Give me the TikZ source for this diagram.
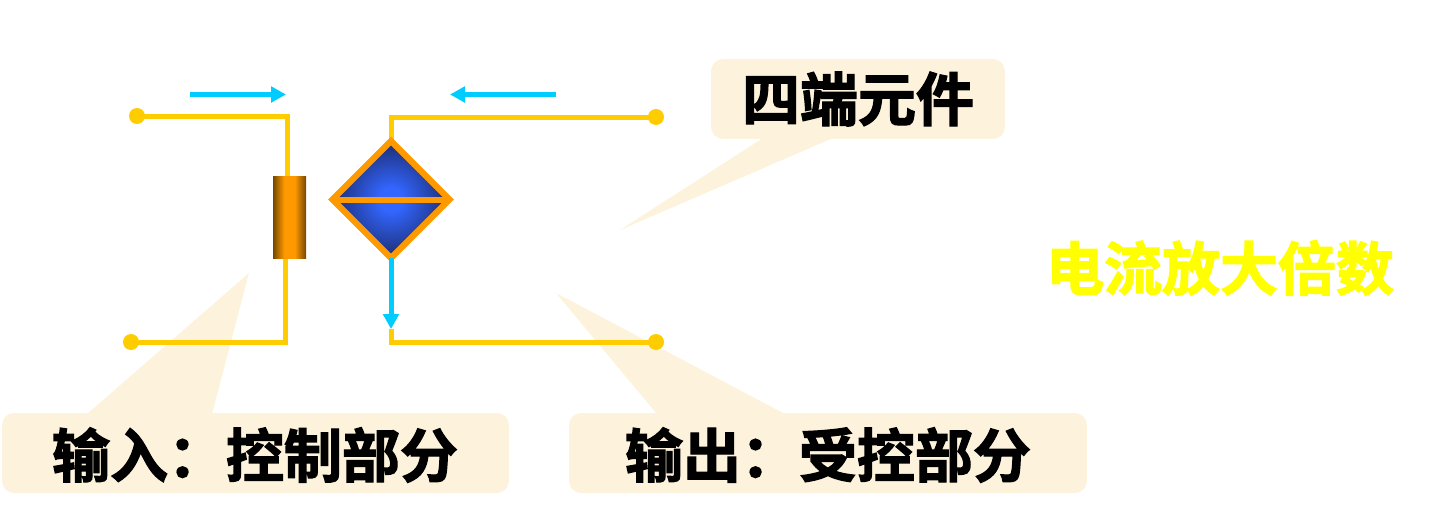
\documentclass[tikz,border=0pt]{standalone}
\usepackage{fontspec}
\usepackage{amsmath}
\usepackage{xcolor}
\usepackage{tikz}
\usetikzlibrary{positioning,arrows.meta,shapes.geometric}
\newfontfamily\cjk[FakeBold=2.2]{Noto Sans CJK SC Bold}
\definecolor{wireyellow}{HTML}{FFCC00}
\definecolor{flowblue}{HTML}{00CCFF}
\definecolor{noteback}{HTML}{FDF3DC}
\definecolor{rimorange}{HTML}{FF9900}
\definecolor{rodbrown}{HTML}{744800}
\definecolor{coreblue}{HTML}{3366FF}
\definecolor{edgeblue}{HTML}{1D2F78}
\definecolor{gainyellow}{HTML}{FFFF00}
\pgfdeclarehorizontalshading{rodglow}{100bp}{color(0bp)=(rodbrown); color(25bp)=(rodbrown); color(42bp)=(rimorange); color(58bp)=(rimorange); color(75bp)=(rodbrown); color(100bp)=(rodbrown)}
\pgfdeclareradialshading{diamondglow}{\pgfpoint{0bp}{0bp}}{color(0bp)=(coreblue); color(5bp)=(coreblue); color(24bp)=(edgeblue); color(50bp)=(edgeblue)}

\begin{document}
\begin{tikzpicture}[
    x=0.02cm, y=-0.02cm,
    wire/.style={draw=wireyellow, line width=0.1cm},
    wiredot/.style={circle, fill=wireyellow, inner sep=0pt, minimum size=0.32cm},
    flow/.style={draw=flowblue, line width=0.1cm, -{Triangle[length=0.3cm, width=0.31cm]}},
    notebox/.style={fill=noteback, rounded corners=0.24cm, minimum height=1.6cm, inner sep=0pt},
    notetip/.style={fill=noteback},
    notetext/.style={font=\cjk\fontsize{33}{33}\selectfont, text=black, inner sep=0pt},
    formula/.style={font=\fontsize{46}{46}\selectfont, text=white, inner sep=0pt}
]
\useasboundingbox (0,0) rectangle (1430,524);

% Callout boxes and their pointers
\fill[notetip] (763,138) -- (620,230) -- (833,138) -- cycle;
\fill[notetip] (87,414) -- (249,273) -- (212,414) -- cycle;
\fill[notetip] (657,414) -- (556,293) -- (785,414) -- cycle;
\node[notebox, minimum width=5.88cm] (notefour) at (858,99) {};
\node[notebox, minimum width=10.14cm] (notein) at (255.5,453) {};
\node[notebox, minimum width=10.36cm] (noteout) at (828,453) {};
\node[notetext] (textfour) at (notefour) {四端元件};
\node[notetext] (textin) at (255,455) {输入：控制部分};
\node[notetext] (textout) at (828,455) {输出：受控部分};

% Terminals and corners
\node[wiredot] (dotA) at (137,116) {};
\node[wiredot] (dotB) at (131,342) {};
\node[wiredot] (dotC) at (656,117) {};
\node[wiredot] (dotD) at (656,342) {};
\coordinate (cornerA) at (287,116);
\coordinate (cornerB) at (285.7,342);
\coordinate (cornerC) at (391,117);
\coordinate (cornerD) at (391,342);
\coordinate (rodtop) at (287,180);
\coordinate (rodbot) at (285.7,255);
\coordinate (tipD) at (391,329);

% Wires
\draw[wire] (dotA.center) -- (cornerA) -- (rodtop);
\draw[wire] (dotB.center) -- (cornerB) -- (rodbot);
\draw[wire] (dotC.center) -- (cornerC) -- (391,145);
\draw[wire] (dotD.center) -- (cornerD) -- (tipD);

% Input rod
\node[shading=rodglow, minimum width=0.66cm, minimum height=1.66cm, inner sep=0pt] (rod) at (289.5,217.5) {};

% Controlled source
\node[diamond, aspect=1, draw=rimorange, line width=0.125cm, shading=diamondglow, minimum width=2.34cm, minimum height=2.34cm, inner sep=0pt, outer sep=0pt] (source) at (391,199.5) {};
\draw[draw=rimorange, line width=0.12cm] (source.west) -- (source.east);

% Current arrows
\coordinate (flowAs) at (190,94.5);
\coordinate (flowAe) at (286,94.5);
\coordinate (flowCs) at (556,94.5);
\coordinate (flowCe) at (450,94.5);
\draw[flow] (flowAs) -- (flowAe);
\draw[flow] (flowCs) -- (flowCe);
\draw[flow] (source.south) -- (tipD);

% Formula and gain label
\node[formula] (lhs) at (1072,168) {$i_2$};
\node[formula] (rhs) at (1236,168) {$\beta i_1$};
\node[notetext, text=gainyellow] (gain) at (1220,268) {电流放大倍数};
\end{tikzpicture}
\end{document}
